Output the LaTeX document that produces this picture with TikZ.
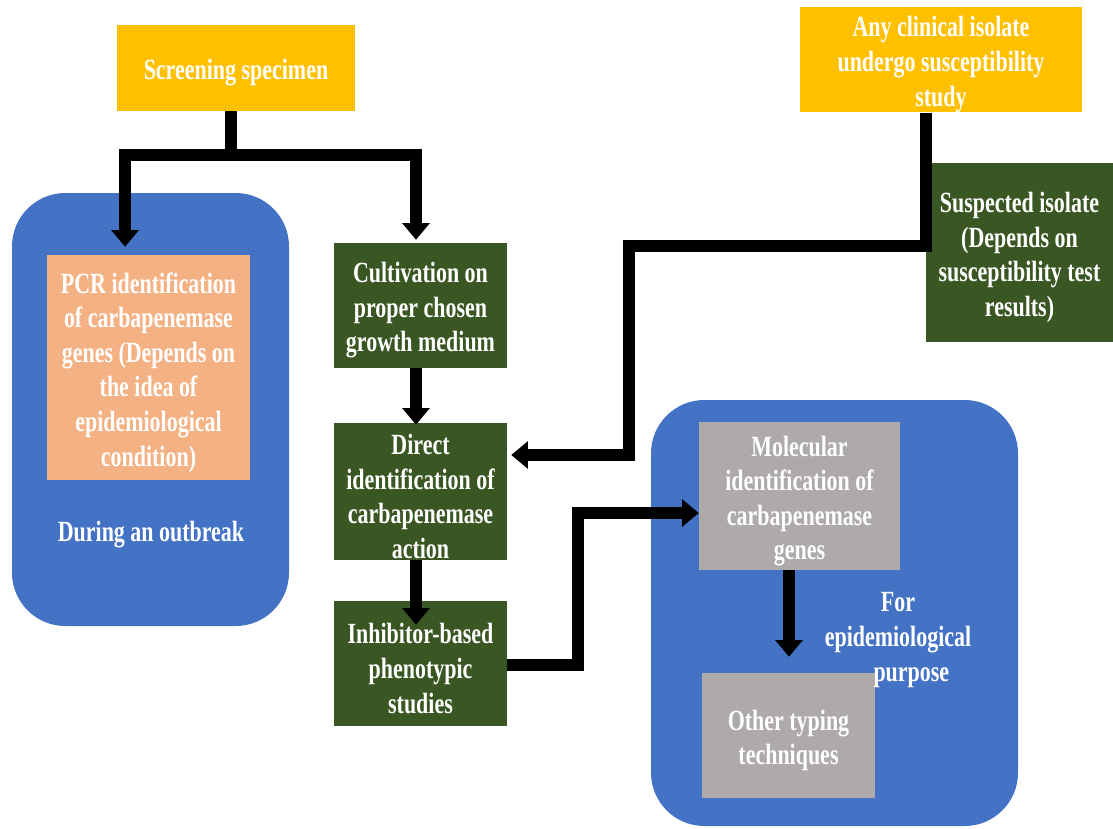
\documentclass[tikz,border=0pt]{standalone}
\usepackage{fontspec}
\setmainfont{Liberation Serif}[FakeStretch=0.75]
\usetikzlibrary{positioning,calc,arrows.meta}
\definecolor{gold}{HTML}{FFC000}
\definecolor{leaf}{HTML}{3A5623}
\definecolor{sea}{HTML}{4472C4}
\definecolor{salmon}{HTML}{F4B183}
\definecolor{stone}{HTML}{AEAAAA}
\newcommand{\inbox}[2]{\begin{minipage}{#1}\centering\vspace*{0.3cm}#2\end{minipage}}

\begin{document}
\begin{tikzpicture}[x=0.03cm,y=-0.03cm,
  box/.style={inner sep=0pt,text=white,font=\fontsize{25}{29.5}\selectfont\bfseries},
  arr/.style={line width=0.36cm,-{Triangle[width=0.8cm,length=0.5cm]}}]
\useasboundingbox (0,0) rectangle (1113,828);
% blue panels
\fill[sea,rounded corners=1.6cm] (12,193) rectangle (289,626);
\fill[sea,rounded corners=1.6cm] (651,400) rectangle (1018,826);

\node[box,fill=gold,minimum width=7.14cm,minimum height=2.58cm] (0) at (236,68) {\inbox{7cm}{Screening specimen}};
\node[box,fill=gold,minimum width=8.46cm,minimum height=3.09cm] (1) at (941,59.5) {\inbox{8.3cm}{Any clinical isolate\\ undergo susceptibility\\ study}};
\node[box,fill=leaf,minimum width=5.61cm,minimum height=5.37cm] (2) at (1019.5,252.5) {\inbox{5.5cm}{Suspected isolate\\ (Depends on\\ susceptibility test\\ results)}};
\node[box,fill=salmon,minimum width=6.09cm,minimum height=6.75cm] (3) at (148.5,367.5) {\inbox{6cm}{PCR identification\\ of carbapenemase\\ genes (Depends on\\ the idea of\\ epidemiological\\ condition)}};
\node[box] (9) at (151,535) {During an outbreak};
\node[box,fill=leaf,minimum width=5.19cm,minimum height=3.75cm] (4) at (420.5,305.5) {\inbox{5.1cm}{Cultivation on\\ proper chosen\\ growth medium}};
\node[box,fill=leaf,minimum width=5.19cm,minimum height=4.11cm] (5) at (420.5,491.5) {\inbox{5.1cm}{Direct\\ identification of\\ carbapenemase\\ action}};
\node[box,fill=leaf,minimum width=5.19cm,minimum height=3.75cm] (6) at (420.5,663.5) {\inbox{5.1cm}{Inhibitor-based\\ phenotypic\\ studies}};
\node[box,fill=stone,minimum width=6.03cm,minimum height=4.44cm] (7) at (799.5,496) {\inbox{5.9cm}{Molecular\\ identification of\\ carbapenemase\\ genes}};
\node[box,fill=stone,minimum width=5.19cm,minimum height=3.75cm] (8) at (788.5,735.5) {\inbox{5.1cm}{Other typing\\ techniques}};
\node[box] (10) at (898,635) {\inbox{5cm}{For\\ epidemiological\\ \hspace*{0.8cm}purpose}};

% connectors
\coordinate (f) at ($(0.south)+(-5,44)$);
\draw[arr] ($(0.south)+(-5,0)$) -- (f) -| ($(3.north)+(-23.5,-8)$);
\draw[arr] (f) -| ($(4.north)+(-4.5,-3)$);
\draw[arr] ($(4.south)+(-4.5,0)$) -- ($(5.north)+(-4.5,2)$);
\draw[arr] ($(5.south)+(-4.5,0)$) -- ($(6.north)+(-4.5,24)$);
\draw[arr] ($(1.south)+(-15,0)$) -- ++(0,133) -| ($(5.east)+(122,-36.5)$) -- ($(5.east)+(4,-36.5)$);
\draw[arr] ($(6.east)+(0,1.5)$) -| ($(7.west)+(-121,17)$) -- ($(7.west)+(0,17)$);
\draw[arr] ($(7.south)+(-10.5,0)$) -- ($(8.north)+(0.5,-16)$);
\end{tikzpicture}
\end{document}
